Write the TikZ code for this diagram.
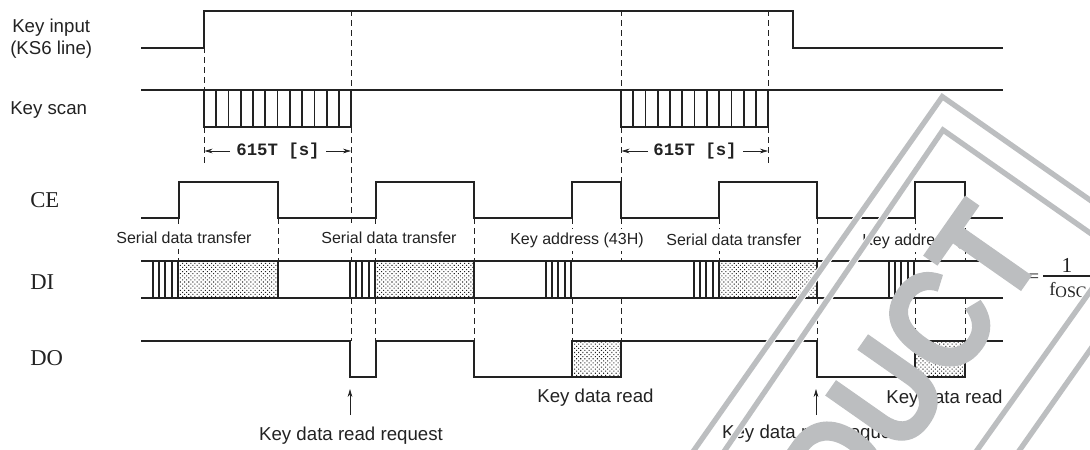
\documentclass[tikz,border=0pt]{standalone}
\usepackage{fontspec}
\setmainfont{Liberation Sans}
\newfontfamily\serifcm{Liberation Serif}
\newfontfamily\monof{Liberation Mono Bold}
\newfontfamily\wmfont[FakeBold=1]{Liberation Sans Bold}
\usetikzlibrary{patterns.meta,arrows.meta}
\definecolor{ink}{HTML}{222222}
\definecolor{wm}{HTML}{BCBEC0}
\tikzset{
  sig/.style={draw=ink,line width=1.5pt,line join=miter},
  thin sig/.style={draw=ink,line width=1.3pt},
  guide/.style={draw=ink,line width=.75pt,dash pattern=on 4.5pt off 3pt},
  dotfill/.style={pattern={Dots[angle=45,distance=2.2pt,radius=.55pt]},pattern color=ink},
  lab/.style={text=ink,font=\fontsize{14}{14}\selectfont,inner sep=0pt},
  small/.style={text=ink,font=\fontsize{12}{12}\selectfont,fill=white,inner xsep=1pt,inner ysep=3pt,minimum height=17pt},
  pin/.style={text=ink,font=\fontsize{17}{17}\serifcm,inner sep=0pt,anchor=west},
  dur/.style={text=ink,font=\fontsize{13}{13}\monof,inner sep=0pt},
  darrow/.style={draw=ink,line width=.6pt,-{Stealth[length=6pt,width=3.5pt]}},
  frame halo/.style={draw=white,line width=5.6pt,line join=miter},
  frame line/.style={draw=wm,line width=4pt,line join=miter},
}
\begin{document}
\begin{tikzpicture}[x=.75pt,y=-.75pt]
\useasboundingbox (0,0) rectangle (1090,450);
\clip (0,0) rectangle (1090,450);
% guides
\foreach \xx/\a/\b in {204/47/90,204/127/163,351/10/90,351/127/261,351/298/341,
  178.5/218/261,278/218/261,375.5/218/261,375.5/298/341,474/218/261,474/298/341,
  572/218/261,572/298/341,621/10/90,621/127/182,621/218/261,621/298/341,
  719/218/261,768/10/90,768/127/163,817/218/261,817/298/341,915/218/261,915/298/341,
  965/218/261,965/298/341}
  \draw[guide] (\xx,\a) -- (\xx,\b);
% key input
\draw[sig] (141,47.5) -- (204,47.5) -- (204,10.5) -- (793,10.5) -- (793,47.5) -- (1003,47.5);
% key scan
\draw[sig] (141,90) -- (1003,90);
\foreach \s in {204,621}{
  \draw[thin sig] (\s,90) rectangle ++(147.3,37);
  \foreach \k in {1,...,11} \draw[thin sig] ({\s+\k*12.27},90) -- ({\s+\k*12.27},127);
}
% CE
\draw[sig] (141,217.7) -| (178.5,181.7) -| (278,217.7) -| (375.5,181.7) -| (474,217.7) -| (572,181.7) -| (621,217.7) -| (719,181.7) -| (817,217.7) -| (915,181.7) -| (965,217.7) -- (1003,217.7);
% DI
\foreach \l/\r in {178.5/278,375.5/474,719/817}
  \path[dotfill] (\l,261) rectangle (\r,297.7);
\draw[sig] (141,261) -- (1003,261);
\draw[sig] (141,297.7) -- (1003,297.7);
\foreach \l in {153,350,546,694,889}
  \foreach \k in {0,...,4} \draw[sig] ({\l+\k*6.2},261) -- ({\l+\k*6.2},297.7);
\foreach \r in {278,474,817} \draw[sig] (\r,261) -- (\r,297.7);
% DO
\foreach \l/\r in {572/621,915/965}{
  \path[dotfill] (\l,340.7) rectangle (\r,377.3);
  \draw[sig] (\l,340.7) rectangle (\r,377.3);
}
\draw[sig] (141,340.7) -| (350,377.3) -| (375.5,340.7) -| (474,377.3) -- (572,377.3);
\draw[sig] (621,340.7) -- (817,340.7) -- (817,377.3) -- (915,377.3);
\draw[sig] (965,340.7) -- (1003,340.7);
% labels
\node[lab,anchor=west] (l1) at (12,28) {Key input};
\node[lab,anchor=west] (l2) at (10,50) {(KS6 line)};
\node[lab,anchor=west] (l3) at (10,110) {Key scan};
\node[pin] (ce) at (30,200) {CE};
\node[pin] (di) at (30,282) {DI};
\node[pin] (do) at (30,358) {DO};
\node[dur] (d1) at (278,151) {615T [s]};
\node[dur] (d2) at (695,151) {615T [s]};
\coordinate (a1l) at (204.5,151); \coordinate (a1m) at (230,151);
\coordinate (a1r) at (351,151); \coordinate (a1n) at (326,151);
\coordinate (a2l) at (621.5,151); \coordinate (a2m) at (648,151);
\coordinate (a2r) at (768,151); \coordinate (a2n) at (743,151);
\draw[darrow] (a1m) -- (a1l); \draw[darrow] (a1n) -- (a1r);
\draw[darrow] (a2m) -- (a2l); \draw[darrow] (a2n) -- (a2r);
\node[small] (s1) at (184,238) {Serial data transfer};
\node[small] (s2) at (389,238) {Serial data transfer};
\node[small] (k1) at (577,240) {Key address (43H)};
\node[small] (s3) at (734,240) {Serial data transfer};
\node[small] (k2) at (929,241) {Key address (43H)};
\node[lab] (r1) at (595.5,398) {Key data read};
\node[lab] (r2) at (944.5,399) {Key data read};
\node[lab] (q1) at (351,436) {Key data read request};
\node[lab] (q2) at (814,434) {Key data read request};
\coordinate (ar1a) at (350,415); \coordinate (ar1b) at (350,389);
\coordinate (ar2a) at (816,415); \coordinate (ar2b) at (816,389);
\draw[darrow] (ar1a) -- (ar1b); \draw[darrow] (ar2a) -- (ar2b);
\node[text=ink,font=\fontsize{14}{14}\serifcm,inner sep=0pt] (eq) at (1034,278) {=};
\node[text=ink,font=\fontsize{16}{16}\serifcm,inner sep=0pt] (one) at (1067,265) {1};
\coordinate (fa) at (1043,276); \coordinate (fb) at (1090,276);
\draw[draw=ink,line width=.8pt] (fa) -- (fb);
\node[text=ink,font=\fontsize{14}{14}\serifcm,inner sep=0pt,anchor=west] (fo) at (1049,290) {f\raisebox{-2pt}{\fontsize{12}{12}\selectfont OSC}};
% part of the stamp's clear area
\fill[white] (968,229) rectangle (1000,251);
% watermark frame
\foreach \st in {frame halo,frame line}{
  \draw[\st] (671,483) -- (942.3,96.7) -- (1180,263);
  \draw[\st] (644,569) -- (943,130) -- (1180,296);
  \draw[\st] (968,463) -- (1180,165);
  \draw[\st] (1000,478) -- (1180,222);
}
% watermark text
\node[text=wm,font=\fontsize{108}{108}\wmfont,inner sep=0pt,anchor=base east,rotate=55] (wmt) at (1047.5,252) {\scalebox{.85}[1]{PRODUCT}};
\end{tikzpicture}
\end{document}
